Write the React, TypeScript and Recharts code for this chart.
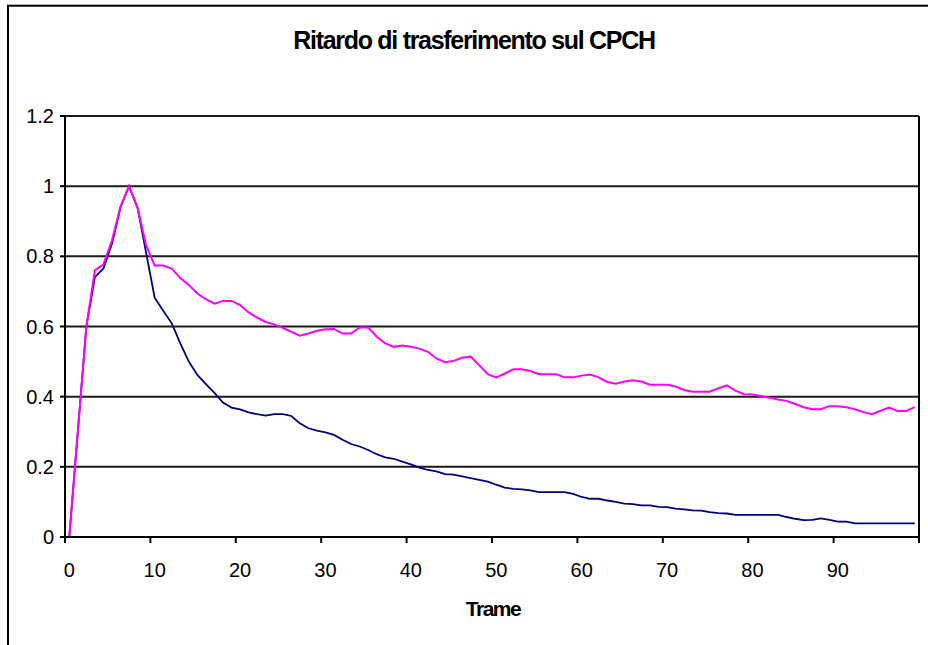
import React from "react";
import { LineChart, Line, XAxis, YAxis, CartesianGrid, ReferenceLine } from "recharts";

const frames = [
  0, 1, 2, 3, 4, 5, 6, 7, 8, 9, 10, 11, 12, 13, 14, 15, 16, 17, 18, 19,
  20, 21, 22, 23, 24, 25, 26, 27, 28, 29, 30, 31, 32, 33, 34, 35, 36, 37, 38, 39,
  40, 41, 42, 43, 44, 45, 46, 47, 48, 49, 50, 51, 52, 53, 54, 55, 56, 57, 58, 59,
  60, 61, 62, 63, 64, 65, 66, 67, 68, 69, 70, 71, 72, 73, 74, 75, 76, 77, 78, 79,
  80, 81, 82, 83, 84, 85, 86, 87, 88, 89, 90, 91, 92, 93, 94, 95, 96, 97, 98, 99,
];

const navySeries = [
  0, 0.3, 0.6, 0.741, 0.765, 0.836, 0.94, 1.0, 0.938, 0.81,
  0.682, 0.645, 0.609, 0.552, 0.5, 0.462, 0.436, 0.411, 0.383, 0.369,
  0.364, 0.355, 0.35, 0.346, 0.35, 0.35, 0.345, 0.324, 0.31, 0.303,
  0.298, 0.291, 0.277, 0.265, 0.258, 0.248, 0.236, 0.227, 0.223, 0.215,
  0.207, 0.198, 0.191, 0.187, 0.179, 0.178, 0.173, 0.168, 0.163, 0.158,
  0.149, 0.141, 0.137, 0.136, 0.133, 0.128, 0.128, 0.128, 0.128, 0.123,
  0.114, 0.109, 0.109, 0.104, 0.1, 0.095, 0.094, 0.09, 0.09, 0.086,
  0.085, 0.081, 0.079, 0.076, 0.075, 0.071, 0.068, 0.067, 0.063, 0.063,
  0.063, 0.063, 0.063, 0.063, 0.057, 0.052, 0.048, 0.049, 0.053, 0.049,
  0.044, 0.044, 0.039, 0.039, 0.039, 0.039, 0.039, 0.039, 0.039, 0.039,
];

const magentaSeries = [
  0, 0.3, 0.6, 0.76, 0.777, 0.845, 0.942, 1.0, 0.938, 0.831,
  0.774, 0.774, 0.765, 0.738, 0.718, 0.694, 0.678, 0.665, 0.673, 0.673,
  0.661, 0.64, 0.625, 0.613, 0.606, 0.596, 0.585, 0.574, 0.58, 0.588,
  0.592, 0.593, 0.58, 0.58, 0.597, 0.597, 0.571, 0.552, 0.542, 0.546,
  0.542, 0.537, 0.528, 0.509, 0.498, 0.502, 0.511, 0.514, 0.49, 0.464,
  0.455, 0.466, 0.478, 0.478, 0.473, 0.464, 0.464, 0.464, 0.455, 0.455,
  0.46, 0.463, 0.455, 0.442, 0.437, 0.443, 0.447, 0.443, 0.434, 0.434,
  0.434, 0.429, 0.419, 0.414, 0.414, 0.414, 0.424, 0.432, 0.417, 0.407,
  0.406, 0.402, 0.397, 0.392, 0.388, 0.379, 0.37, 0.364, 0.364, 0.373,
  0.373, 0.37, 0.364, 0.356, 0.35, 0.36, 0.369, 0.359, 0.359, 0.37,
];

const xTickLabels = [0, 10, 20, 30, 40, 50, 60, 70, 80, 90];
const yTicks = [0, 0.2, 0.4, 0.6, 0.8, 1, 1.2];

const title = "Ritardo di trasferimento sul CPCH";
const xAxisTitle = "Trame";

const data = frames.map((f, i) => ({ frame: f, navy: navySeries[i], magenta: magentaSeries[i] }));

const FONT = "'Liberation Sans', Arial, Helvetica, sans-serif";
const W = 928;
const H = 645;
const PLOT_LEFT = 65;
const PLOT_RIGHT = 919;
const HALF_CAT = (PLOT_RIGHT - PLOT_LEFT) / frames.length / 2;

// tick marks sit on category boundaries (Excel "between categories")
const boundaryTicks = [...xTickLabels.map((v) => v - 0.5), frames.length - 0.5];

const CatTick = (props: any) => {
  const { x, y, payload } = props;
  const v = Math.round(payload.value + 0.5);
  if (!xTickLabels.includes(v)) return <g />;
  return (
    <text x={x + HALF_CAT} y={y + 32} textAnchor="middle" fontSize={20} fontFamily={FONT} fill="#000">
      {v}
    </text>
  );
};

export default function App() {
  return (
    <div style={{ position: "absolute", left: 0, top: 0, width: W, height: H, overflow: "hidden", background: "#fff" }}>
      <LineChart
        width={W}
        height={H}
        data={data}
        margin={{ top: 116, right: W - PLOT_RIGHT, bottom: 78, left: 0 }}
      >
        <CartesianGrid vertical={false} stroke="#1a1a1a" strokeWidth={2} />
        <XAxis
          dataKey="frame"
          type="number"
          domain={[-0.5, frames.length - 0.5]}
          ticks={boundaryTicks}
          interval={0}
          height={30}
          tickSize={6}
          tickMargin={2}
          tick={<CatTick />}
          axisLine={{ stroke: "#000", strokeWidth: 2 }}
          tickLine={{ stroke: "#000", strokeWidth: 2 }}
          allowDataOverflow
        />
        <YAxis
          type="number"
          domain={[0, 1.2]}
          ticks={yTicks}
          interval={0}
          width={PLOT_LEFT}
          tickSize={5}
          tickMargin={6}
          tick={{ fill: "#000", fontSize: 20, fontFamily: FONT }}
          axisLine={{ stroke: "#000", strokeWidth: 2 }}
          tickLine={{ stroke: "#000", strokeWidth: 2 }}
        />
        <ReferenceLine x={frames.length - 0.5} stroke="#000" strokeWidth={2} ifOverflow="visible" />
        <Line
          type="linear"
          dataKey="navy"
          stroke="#000080"
          strokeWidth={1.8}
          dot={false}
          isAnimationActive={false}
        />
        <Line
          type="linear"
          dataKey="magenta"
          stroke="#FF00FF"
          strokeWidth={2}
          dot={false}
          isAnimationActive={false}
        />
      </LineChart>
      <svg
        width={W}
        height={H}
        style={{ position: "absolute", left: 0, top: 0, pointerEvents: "none" }}
      >
        <rect x={8} y={5.7} width={1000} height={1000} fill="none" stroke="#000" strokeWidth={2} />
        <text
          x={474}
          y={48.5}
          textAnchor="middle"
          fontSize={25}
          fontWeight="bold"
          fontFamily={FONT}
          letterSpacing={-1.3}
          fill="#000"
        >
          {title}
        </text>
        <text
          x={493}
          y={615.7}
          textAnchor="middle"
          fontSize={21}
          fontWeight="bold"
          fontFamily={FONT}
          letterSpacing={-1.5}
          fill="#000"
        >
          {xAxisTitle}
        </text>
      </svg>
    </div>
  );
}
